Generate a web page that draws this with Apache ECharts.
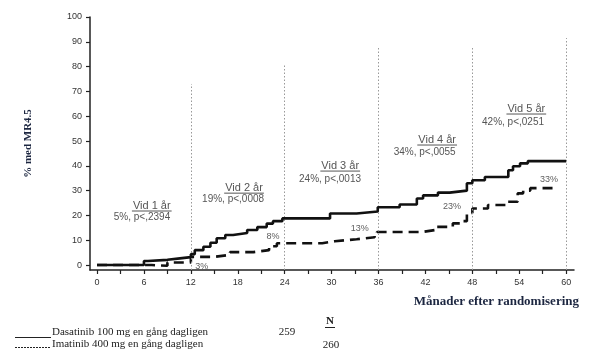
<!DOCTYPE html>
<html><head><meta charset="utf-8">
<script src="https://cdn.jsdelivr.net/npm/echarts@6/dist/echarts.min.js"></script>
<style>html,body{margin:0;padding:0;background:#fff}#c{width:589px;height:361px}</style>
</head><body><div id="c"></div>
<script>
// ---- data ----
const dasaMonths = [0, 6, 6.5, 9, 10.6, 12, 12.5, 13.6, 14.5, 15.3, 16.4, 17.4, 19.2, 20.5, 21.7, 22.5, 23.7, 29.8, 33.2, 35.9, 38.7, 40.9, 41.7, 43.6, 45.1, 47.3, 48, 49.6, 52.6, 53.2, 54.1, 55.1, 60];
const dasaPct    = [0, 1.6, 2.1, 2.7, 3.2, 4.4, 6, 7.4, 9, 10.8, 12.1, 12.9, 14.1, 15.3, 16.7, 17.7, 18.8, 20.8, 21.6, 23.3, 24.4, 26.8, 28.1, 29.2, 30, 33, 34.2, 35.5, 38.2, 39.8, 41, 41.9, 42.1];
const imaMonths  = [0, 7, 9, 12, 15, 17, 20, 22, 23, 28.8, 30.4, 33.2, 35.5, 35.8, 41.5, 43.2, 45.5, 46.8, 47.3, 48, 50, 52.5, 53.8, 54.5, 55.4, 59];
const imaPct     = [0, -0.3, 1, 3.3, 4.1, 5.2, 6, 7.6, 8.8, 9.6, 10.4, 11.2, 12.1, 13.3, 14.1, 15.4, 16.8, 17.7, 21, 22.8, 24.2, 25.5, 28.9, 30, 31, 31];
const yearMonths = [12, 24, 36, 48, 60];
const yearLineTop = [73, 80.5, 88, 88, 91.5];
const yearLabels = ['Vid 1 år', 'Vid 2 år', 'Vid 3 år', 'Vid 4 år', 'Vid 5 år'];
const yearStats  = ['5%, p<,2394', '19%, p<,0008', '24%, p<,0013', '34%, p<,0055', '42%, p<,0251'];
const imaYearPct = ['3%', '8%', '13%', '23%', '33%'];
const yTicks = [0, 10, 20, 30, 40, 50, 60, 70, 80, 90, 100];
const xTicks = [0, 3, 6, 9, 12, 15, 18, 21, 24, 27, 30, 33, 36, 39, 42, 45, 48, 51, 54, 57, 60];
const xLabels = [0, 6, 12, 18, 24, 30, 36, 42, 48, 54, 60];
const legendNames = ['Dasatinib 100 mg en gång dagligen', 'Imatinib 400 mg en gång dagligen'];
const legendN = ['259', '260'];

// ---- layout (not data) ----
const yMin = -2, xMin = -0.9, xMax = 61;
const labelAt = [[7.0, 23.8], [18.8, 31], [31.1, 39.9], [43.5, 50.4], [54.9, 62.9]];
const statAt  = [[5.75, 19.4], [17.4, 26.6], [29.8, 34.7], [41.9, 45.6], [53.2, 57.7]];
const pctAt   = [[13.4, -0.4], [22.5, 11.3], [33.6, 14.7], [45.4, 23.4], [57.8, 34.3]];

const chart = echarts.init(document.getElementById('c'), null, {renderer: 'canvas'});
const axisCol = '#222';
const navy = '#1c2640';
chart.setOption({
  animation: false,
  grid: {left: 90, right: 15, top: 17, bottom: 91},
  xAxis: {
    type: 'value', min: xMin, max: xMax,
    axisLine: {onZero: false, lineStyle: {color: axisCol, width: 1.5}},
    axisTick: {customValues: xTicks, length: 4, lineStyle: {color: axisCol, width: 1.2}},
    axisLabel: {customValues: xLabels, color: '#333', fontSize: 9, fontFamily: 'Liberation Sans', margin: 8},
    splitLine: {show: false}
  },
  yAxis: {
    type: 'value', min: yMin, max: 100,
    name: '% med MR4.5', nameLocation: 'middle', nameGap: 56, nameRotate: 90,
    nameTextStyle: {color: navy, fontSize: 11, fontWeight: 'bold', fontFamily: 'Liberation Serif'},
    axisLine: {show: true, onZero: false, lineStyle: {color: axisCol, width: 1.5}},
    axisTick: {show: true, customValues: yTicks, length: 4, lineStyle: {color: axisCol, width: 1.2}},
    axisLabel: {customValues: yTicks, color: '#333', fontSize: 9, fontFamily: 'Liberation Sans', margin: 8},
    splitLine: {show: false}
  },
  series: [
    {
      type: 'line', step: 'end', showSymbol: false, silent: true, z: 5,
      data: dasaMonths.map((m, i) => [m, dasaPct[i]]),
      lineStyle: {color: '#111', width: 2.6},
      markLine: {
        silent: true, symbol: 'none', label: {show: false},
        lineStyle: {type: [1.5, 2], color: '#999', width: 1},
        data: yearMonths.map((m, i) => [{coord: [m, yMin]}, {coord: [m, yearLineTop[i]]}])
      }
    },
    {
      type: 'line', step: 'end', showSymbol: false, silent: true, z: 4,
      data: imaMonths.map((m, i) => [m, imaPct[i]]),
      lineStyle: {color: '#111', width: 2.6, type: [10, 6]}
    },
    {
      type: 'scatter', symbolSize: 0, silent: true, z: 6,
      data: pctAt.map((p, i) => ({value: p, name: imaYearPct[i]})),
      label: {show: true, position: 'inside', formatter: p => p.name, color: '#333', fontSize: 9, fontFamily: 'Liberation Sans'}
    }
  ]
});

const ctx = document.createElement('canvas').getContext('2d');
function textW(t, font) { ctx.font = font; return ctx.measureText(t).width; }
const P = (x, y) => chart.convertToPixel({gridIndex: 0}, [x, y]);
const graphics = [];
const annCol = '#555';
yearLabels.forEach((t, i) => {
  const a = P(labelAt[i][0], labelAt[i][1]);
  const w = textW(t, '11px "Liberation Sans"');
  graphics.push({type: 'text', x: a[0], y: a[1], style: {text: t, fill: annCol, font: '11px "Liberation Sans"', align: 'center', verticalAlign: 'middle'}});
  graphics.push({type: 'line', shape: {x1: a[0] - w / 2 - 1, y1: a[1] + 5, x2: a[0] + w / 2 + 1, y2: a[1] + 5}, style: {stroke: annCol, lineWidth: 1}});
  const b = P(statAt[i][0], statAt[i][1]);
  graphics.push({type: 'text', x: b[0], y: b[1], style: {text: yearStats[i], fill: annCol, font: '10px "Liberation Sans"', align: 'center', verticalAlign: 'middle'}});
});
// x axis title
graphics.push({type: 'text', x: 579, y: 302, style: {text: 'Månader efter randomisering', fill: navy, font: 'bold 13px "Liberation Serif"', align: 'right', verticalAlign: 'middle'}});
// legend block
const serif = '11px "Liberation Serif"';
graphics.push({type: 'line', shape: {x1: 15, y1: 337.5, x2: 51, y2: 337.5}, style: {stroke: '#222', lineWidth: 1}});
graphics.push({type: 'line', shape: {x1: 15, y1: 347.5, x2: 51, y2: 347.5}, style: {stroke: '#222', lineWidth: 1, lineDash: [2, 1]}});
graphics.push({type: 'text', x: 52, y: 332, style: {text: legendNames[0], fill: '#222', font: serif, verticalAlign: 'middle'}});
graphics.push({type: 'text', x: 52, y: 344, style: {text: legendNames[1], fill: '#222', font: serif, verticalAlign: 'middle'}});
graphics.push({type: 'text', x: 287, y: 332, style: {text: legendN[0], fill: '#222', font: serif, align: 'center', verticalAlign: 'middle'}});
graphics.push({type: 'text', x: 331, y: 345, style: {text: legendN[1], fill: '#222', font: serif, align: 'center', verticalAlign: 'middle'}});
graphics.push({type: 'text', x: 330, y: 321, style: {text: 'N', fill: '#222', font: 'bold 11px "Liberation Serif"', align: 'center', verticalAlign: 'middle'}});
graphics.push({type: 'line', shape: {x1: 325, y1: 327.5, x2: 335, y2: 327.5}, style: {stroke: '#222', lineWidth: 1}});
chart.setOption({graphic: graphics});
</script></body></html>
